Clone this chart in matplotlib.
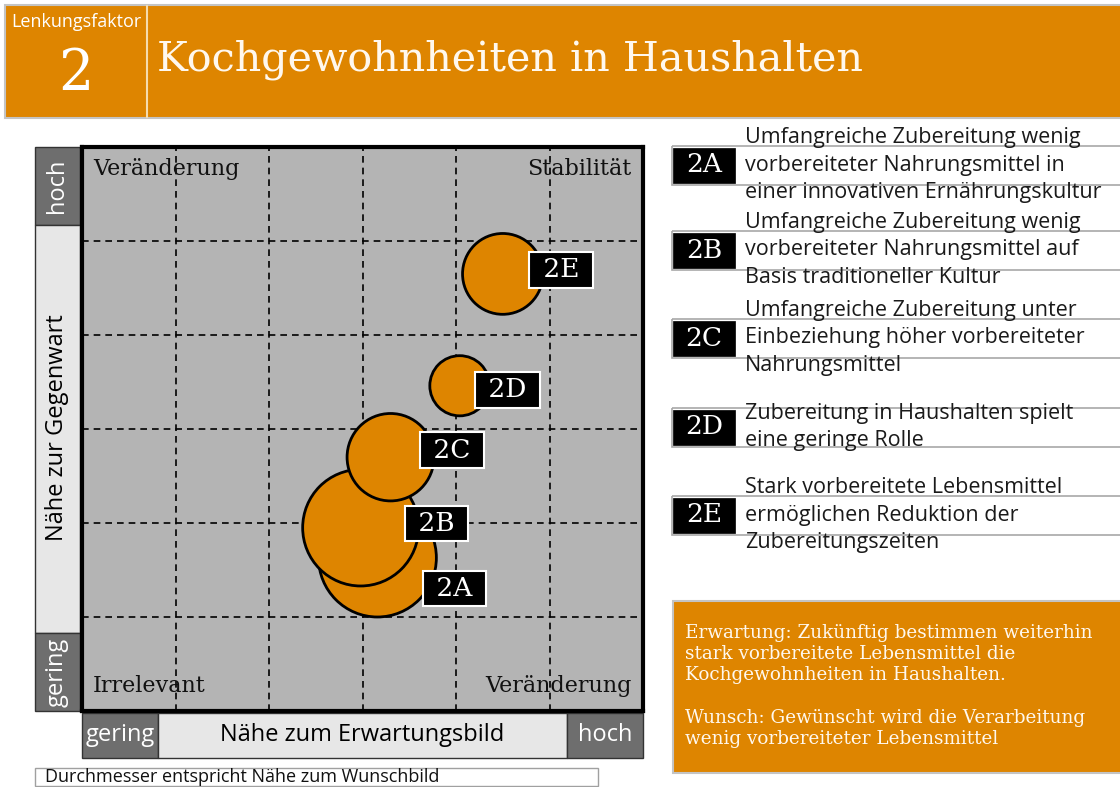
import matplotlib
matplotlib.use("Agg")
import matplotlib.pyplot as plt
from matplotlib.patches import Rectangle, Circle

# data
codes = ['2A', '2B', '2C', '2D', '2E']
x_erwartung = [3.16, 2.98, 3.30, 4.04, 4.50]     # Nähe zum Erwartungsbild
y_gegenwart = [1.63, 1.95, 2.70, 3.46, 4.65]     # Nähe zur Gegenwart
d_wunsch = [1.26, 1.24, 0.93, 0.64, 0.86]        # Durchmesser = Nähe zum Wunschbild
descriptions = [
    'Umfangreiche Zubereitung wenig\nvorbereiteter Nahrungsmittel in\neiner innovativen Ernährungskultur',
    'Umfangreiche Zubereitung wenig\nvorbereiteter Nahrungsmittel auf\nBasis traditioneller Kultur',
    'Umfangreiche Zubereitung unter\nEinbeziehung höher vorbereiteter\nNahrungsmittel',
    'Zubereitung in Haushalten spielt\neine geringe Rolle',
    'Stark vorbereitete Lebensmittel\nermöglichen Reduktion der\nZubereitungszeiten',
]
quadrants = ['Veränderung', 'Stabilität', 'Irrelevant', 'Veränderung']
title = 'Kochgewohnheiten in Haushalten'
factor_no = '2'
note_text = ('Erwartung: Zukünftig bestimmen weiterhin\nstark vorbereitete Lebensmittel die\n'
             'Kochgewohnheiten in Haushalten.\n\nWunsch: Gewünscht wird die Verarbeitung\n'
             'wenig vorbereiteter Lebensmittel')

ORANGE = '#de8500'
DARK = '#6e6e6e'
LIGHT = '#e7e7e7'
SERIF = 'DejaVu Serif'
SANS = 'Open Sans'

W, H = 1120, 787
fig = plt.figure(figsize=(W / 100, H / 100), dpi=100)

# overlay in pixel coordinates for the frame elements
ov = fig.add_axes([0, 0, 1, 1])
ov.set_xlim(0, W)
ov.set_ylim(H, 0)
ov.axis('off')

def box(x0, y0, x1, y1, fc, ec='#333333', lw=1.0, z=1):
    ov.add_patch(Rectangle((x0, y0), x1 - x0, y1 - y0, facecolor=fc, edgecolor=ec, lw=lw, zorder=z))

# header
box(5, 5, 1125, 118, ORANGE, ec='#c4c4c4', lw=1.5)
ov.plot([147, 147], [6, 117], color='#f5dcae', lw=1.5, zorder=2)
ov.text(76, 22, 'Lenkungsfaktor', ha='center', va='center', color='white', fontsize=13, family=SANS)
ov.text(76, 74, factor_no, ha='center', va='center', color='white', fontsize=40, family=SERIF)
ov.text(157, 60, title, ha='left', va='center', color='#fff8ee', fontsize=29.8, family=SERIF)

# left axis bar
lab = 17
box(35, 147, 80, 225, DARK)
box(35, 225, 80, 633, LIGHT)
box(35, 633, 80, 711, DARK)
ov.text(57, 186, 'hoch', rotation=90, ha='center', va='center', color='white', fontsize=lab, family=SANS)
ov.text(57, 428, 'Nähe zur Gegenwart', rotation=90, ha='center', va='center', color='black',
        fontsize=lab, family=SANS)
ov.text(57, 672, 'gering', rotation=90, ha='center', va='center', color='white', fontsize=lab, family=SANS)

# bottom axis bar
box(82, 713, 158, 758, DARK)
box(158, 713, 567, 758, LIGHT)
box(567, 713, 643, 758, DARK)
ov.text(120, 735, 'gering', ha='center', va='center', color='white', fontsize=lab, family=SANS)
ov.text(362, 735, 'Nähe zum Erwartungsbild', ha='center', va='center', color='black', fontsize=lab, family=SANS)
ov.text(605, 735, 'hoch', ha='center', va='center', color='white', fontsize=lab, family=SANS)

# diameter note
box(35, 768, 598, 786, 'white', ec='#a0a0a0', lw=1)
ov.text(45, 777, 'Durchmesser entspricht Nähe zum Wunschbild', ha='left', va='center',
        fontsize=13, family=SANS, color='#111111')

# legend on the right
legend_y = [165, 250, 338, 427, 515]
for code, desc, cy in zip(codes, descriptions, legend_y):
    box(672, cy - 19.5, 1125, cy + 19.5, 'none', ec='#a8a8a8', lw=1.2)
    box(673, cy - 17.5, 735, cy + 17.5, 'black', ec='black', lw=0.5, z=2)
    ov.text(704, cy, code, ha='center', va='center', color='white', fontsize=19, family=SERIF, zorder=3)
    ov.text(745, cy, desc, ha='left', va='center', color='#1a1a1a', fontsize=15.5, family=SANS,
            linespacing=1.4, zorder=3)

# orange expectation box
box(673, 601, 1125, 773, ORANGE, ec='#c4c4c4', lw=1.5)
ov.text(685, 686, note_text, ha='left', va='center', color='#fff8ee', fontsize=13.2, family=SERIF,
        linespacing=1.24)

# main chart
ax = fig.add_axes([82 / W, (H - 711) / H, 561 / W, 564 / H])
ax.set_facecolor('#b4b4b4')
ax.set_xlim(0, 6)
ax.set_ylim(0, 6)
ax.set_xticks(range(1, 6))
ax.set_yticks(range(1, 6))
ax.tick_params(length=0, labelbottom=False, labelleft=False)
ax.grid(True, color='black', linestyle=(0, (4, 3)), lw=1.2)
for s in ax.spines.values():
    s.set_linewidth(3)

ax.text(0.12, 5.77, quadrants[0], ha='left', va='center', fontsize=16, family=SERIF, color='#111111')
ax.text(5.88, 5.77, quadrants[1], ha='right', va='center', fontsize=16, family=SERIF, color='#111111')
ax.text(0.12, 0.27, quadrants[2], ha='left', va='center', fontsize=16, family=SERIF, color='#111111')
ax.text(5.88, 0.27, quadrants[3], ha='right', va='center', fontsize=16, family=SERIF, color='#111111')

# label offsets (points) relative to the right edge of each circle
label_dy = [-22, 3, 5, -3, 3]
for i, (code, x, y, d) in enumerate(zip(codes, x_erwartung, y_gegenwart, d_wunsch)):
    ax.add_patch(Circle((x, y), d / 2, facecolor=ORANGE, edgecolor='black', lw=2, zorder=3 + i))
for code, x, y, d, dy in zip(codes, x_erwartung, y_gegenwart, d_wunsch, label_dy):
    ax.annotate(' ' + code + ' ', xy=(x + d / 2, y), xytext=(13, dy), textcoords='offset points',
                ha='center', va='center', color='white', fontsize=19, family=SERIF, zorder=20,
                bbox=dict(boxstyle='square,pad=0.2', facecolor='black', edgecolor='white', lw=1.5))

fig.savefig('out.png', dpi=100)
